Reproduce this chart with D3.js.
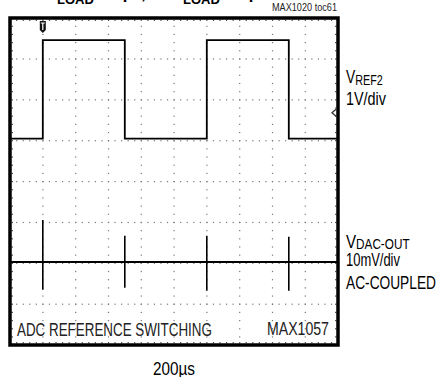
<!DOCTYPE html>
<html><head><meta charset="utf-8">
<script src="https://cdn.jsdelivr.net/npm/d3@7"></script>
<style>
html,body{margin:0;padding:0;background:#fff;}
svg{display:block;}
.nar{font-family:"Liberation Sans",Arial,sans-serif;}
</style></head>
<body>
<script>
// ---- data (in scope divisions: x 0..10, y 0..8 from bottom) ----
const timeDiv   = [0, 1, 1, 3.5, 3.5, 6, 6, 8.5, 8.5, 10];
const vref2     = [5.05, 5.05, 7.46, 7.46, 5.05, 5.05, 7.46, 7.46, 5.05, 5.05];
const spikeTimes  = [1, 3.5, 6, 8.5];
const spikeTop    = [3.06, 2.67, 2.67, 2.65];
const spikeBottom = [1.35, 1.40, 1.33, 1.33];
const dacBaseline = 2.03;
const triggerTime = 1;
const ch1RefLevel = 5.68;
const xDivs = d3.range(0, 11);
const yDivs = d3.range(0, 9);
const labels = {
  ref: ["V", "REF2", "1V/div"],
  dac: ["V", "DAC-OUT", "10mV/div", "AC-COUPLED"],
  bottomLeft: "ADC REFERENCE SWITCHING",
  bottomRight: "MAX1057",
  timebase: "200\u00b5s",
  fig: "MAX1020 toc61"
};

const W = 438, H = 377;
const svg = d3.select("body").append("svg").attr("width", W).attr("height", H);
const x = d3.scaleLinear().domain([0, 10]).range([10, 338]);
const y = d3.scaleLinear().domain([0, 8]).range([345, 18]);

// narrow text helper: draws text inside a group scaled horizontally to a target width
function narrowText(px, py, width, anchor, build) {
  const g = svg.append("g");
  const t = g.append("text").attr("class", "nar").attr("x", 0).attr("y", 0);
  build(t);
  const w = t.node().getBBox().width || width;
  const s = width / w;
  let tx = px;
  if (anchor === "end") tx = px - width;
  if (anchor === "middle") tx = px - width / 2;
  g.attr("transform", `translate(${tx},${py}) scale(${s},1)`);
  return t;
}

// title (cut off at top, as in the reference)
const tg = svg.append("g").attr("font-family", "Liberation Sans, Arial, sans-serif").attr("font-weight", "bold");
const t1 = tg.append("text").attr("x", 45).attr("y", -1).attr("font-size", 17);
t1.append("tspan").text("C");
t1.append("tspan").attr("x", 57).attr("font-size", 13).attr("dy", 5).text("LOAD");
t1.append("tspan").attr("dy", -5).text(" = 1\u00b5F, R");
const t2 = tg.append("text").attr("x", 183).attr("y", 4).attr("font-size", 13);
t2.append("tspan").text("LOAD");
t2.append("tspan").attr("font-size", 17).attr("dy", -5).text(" = 1\u00b5F");

// figure id
narrowText(337, 11, 65, "end", t => t.attr("font-size", 11).attr("fill", "#222").text(labels.fig));

// grid: dotted lines with minor divisions
const gg = svg.append("g");
xDivs.slice(1, -1).forEach(d => {
  d3.range(0, 8.001, 0.2).forEach(v => {
    gg.append("rect").attr("x", x(d) - 0.5).attr("y", y(v) - 0.5).attr("width", 1.2).attr("height", 1.2).attr("fill", "#777");
  });
});
yDivs.slice(1, -1).forEach(d => {
  d3.range(0, 10.001, 0.2).forEach(v => {
    gg.append("rect").attr("x", x(v) - 0.5).attr("y", y(d) - 0.5).attr("width", 1.2).attr("height", 1.2).attr("fill", "#777");
  });
});
// minor ticks along frame edges
d3.range(0, 10.001, 0.2).forEach(v => {
  gg.append("rect").attr("x", x(v) - 0.5).attr("y", y(8) + 1.5).attr("width", 1.2).attr("height", 1.5).attr("fill", "#555");
  gg.append("rect").attr("x", x(v) - 0.5).attr("y", y(0) - 3).attr("width", 1.2).attr("height", 1.5).attr("fill", "#555");
});
d3.range(0, 8.001, 0.2).forEach(v => {
  gg.append("rect").attr("x", x(0) + 1.5).attr("y", y(v) - 0.5).attr("width", 1.5).attr("height", 1.2).attr("fill", "#555");
  gg.append("rect").attr("x", x(10) - 3).attr("y", y(v) - 0.5).attr("width", 1.5).attr("height", 1.2).attr("fill", "#555");
});

// traces
const line = d3.line().x(d => x(d[0])).y(d => y(d[1]));
svg.append("path").datum(timeDiv.map((t, i) => [t, vref2[i]]))
  .attr("d", line).attr("fill", "none").attr("stroke", "#000").attr("stroke-width", 1.8);
svg.append("path").datum([[0, dacBaseline], [10, dacBaseline]])
  .attr("d", line).attr("fill", "none").attr("stroke", "#000").attr("stroke-width", 2.2);
svg.selectAll(".spike").data(spikeTimes).enter().append("line")
  .attr("x1", d => x(d)).attr("x2", d => x(d))
  .attr("y1", (d, i) => y(spikeTop[i])).attr("y2", (d, i) => y(spikeBottom[i]))
  .attr("stroke", "#000").attr("stroke-width", 1.6);

// frame
svg.append("rect").attr("x", x(0)).attr("y", y(8)).attr("width", x(10) - x(0)).attr("height", y(0) - y(8))
  .attr("fill", "none").attr("stroke", "#000").attr("stroke-width", 3.5);

// trigger marker
const tx = x(triggerTime), ty = y(8) + 3;
svg.append("path").attr("d", `M${tx - 3},${ty} h6 v9 l-3,3 l-3,-3 z`).attr("fill", "#111");
svg.append("path").attr("d", `M${tx - 2},${ty + 2} h4 M${tx},${ty + 2} v7`).attr("stroke", "#fff").attr("stroke-width", 1.2);

// ch1 ground marker
const gy = y(ch1RefLevel), gx = x(10) - 2;
svg.append("path").attr("d", `M${gx},${gy - 3.5} L${gx - 4},${gy} L${gx},${gy + 3.5}`).attr("fill", "none").attr("stroke", "#333").attr("stroke-width", 1.3);

// right labels
const lx = 346;
narrowText(lx, 83, 37, "start", t => {
  t.attr("font-size", 18);
  t.append("tspan").text(labels.ref[0]);
  t.append("tspan").attr("font-size", 14).attr("dy", 1.5).text(labels.ref[1]);
});
narrowText(lx, 105, 40, "start", t => t.attr("font-size", 18).text(labels.ref[2]));

narrowText(lx, 248, 64, "start", t => {
  t.attr("font-size", 18);
  t.append("tspan").text(labels.dac[0]);
  t.append("tspan").attr("font-size", 14).attr("dy", 0.5).text(labels.dac[1]);
});
narrowText(lx, 266, 54, "start", t => t.attr("font-size", 18).text(labels.dac[2]));
narrowText(lx, 289, 90, "start", t => t.attr("font-size", 18).text(labels.dac[3]));

// in-plot labels
narrowText(17, 336, 195, "start", t => t.attr("font-size", 18).attr("fill", "#222").text(labels.bottomLeft));
narrowText(329, 335, 62, "end", t => t.attr("font-size", 18).attr("fill", "#222").text(labels.bottomRight));

// timebase
narrowText(x(5), 375, 42, "middle", t => t.attr("font-size", 18).text(labels.timebase));
</script>
</body></html>
